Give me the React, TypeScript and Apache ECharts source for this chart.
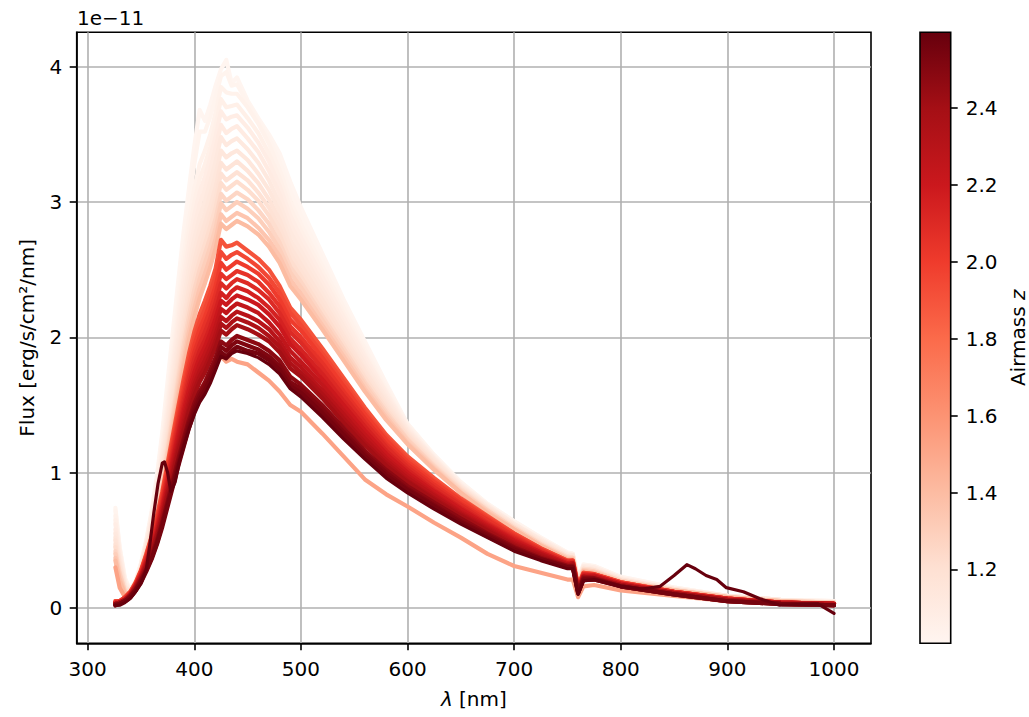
import React, { useEffect, useRef } from "react";
import * as echarts from "echarts";

// Shared wavelength grid (nm)
const WAVELENGTHS = [326, 330, 335, 340, 345, 350, 355, 360, 365, 370, 375, 380, 385, 390, 395, 400, 405, 410, 415, 420, 425, 430, 435, 440, 450, 460, 470, 480, 490, 500, 520, 540, 560, 580, 600, 625, 650, 675, 700, 725, 750, 755, 760, 765, 775, 800, 850, 900, 950, 1000];

// Flux in units of 1e-11 erg/s/cm2/nm, one array per spectrum (name = airmass)
const FLUX_Z1008 = [0.74, 0.45, 0.22, 0.13, 0.20, 0.33, 0.50, 0.72, 0.98, 1.30, 1.68, 2.05, 2.42, 2.78, 3.10, 3.41, 3.68, 3.60, 3.72, 3.86, 3.98, 4.05, 3.88, 3.92, 3.75, 3.62, 3.50, 3.36, 3.15, 2.96, 2.62, 2.28, 1.97, 1.66, 1.36, 1.13, 0.93, 0.77, 0.64, 0.52, 0.41, 0.40, 0.22, 0.32, 0.31, 0.23, 0.15, 0.09, 0.06, 0.05];
const FLUX_Z102 = [0.72, 0.44, 0.21, 0.13, 0.20, 0.33, 0.50, 0.70, 0.96, 1.27, 1.62, 1.99, 2.35, 2.70, 3.00, 3.28, 3.52, 3.52, 3.63, 3.78, 3.93, 3.96, 3.86, 3.87, 3.73, 3.60, 3.47, 3.30, 3.08, 2.90, 2.58, 2.25, 1.94, 1.64, 1.36, 1.13, 0.93, 0.77, 0.64, 0.52, 0.41, 0.40, 0.22, 0.32, 0.31, 0.23, 0.15, 0.09, 0.06, 0.05];
const FLUX_Z104 = [0.68, 0.43, 0.20, 0.13, 0.20, 0.32, 0.49, 0.69, 0.93, 1.22, 1.56, 1.92, 2.27, 2.60, 2.87, 3.10, 3.28, 3.38, 3.50, 3.66, 3.85, 3.81, 3.80, 3.80, 3.70, 3.58, 3.43, 3.24, 3.01, 2.84, 2.53, 2.22, 1.91, 1.62, 1.35, 1.12, 0.92, 0.76, 0.63, 0.51, 0.40, 0.40, 0.21, 0.31, 0.30, 0.22, 0.15, 0.09, 0.06, 0.05];
const FLUX_Z106 = [0.65, 0.41, 0.19, 0.13, 0.19, 0.31, 0.48, 0.67, 0.90, 1.18, 1.51, 1.85, 2.19, 2.51, 2.78, 3.00, 3.17, 3.28, 3.41, 3.57, 3.76, 3.70, 3.71, 3.72, 3.62, 3.51, 3.36, 3.18, 2.96, 2.79, 2.49, 2.18, 1.88, 1.60, 1.34, 1.11, 0.91, 0.76, 0.62, 0.51, 0.40, 0.39, 0.21, 0.31, 0.30, 0.22, 0.14, 0.09, 0.06, 0.04];
const FLUX_Z108 = [0.62, 0.40, 0.18, 0.13, 0.19, 0.31, 0.47, 0.66, 0.88, 1.15, 1.46, 1.79, 2.12, 2.43, 2.69, 2.91, 3.07, 3.19, 3.33, 3.49, 3.67, 3.61, 3.63, 3.64, 3.55, 3.44, 3.30, 3.12, 2.90, 2.74, 2.45, 2.15, 1.86, 1.59, 1.33, 1.11, 0.91, 0.76, 0.62, 0.51, 0.40, 0.39, 0.21, 0.31, 0.30, 0.22, 0.14, 0.09, 0.06, 0.04];
const FLUX_Z110 = [0.58, 0.37, 0.17, 0.12, 0.19, 0.30, 0.46, 0.64, 0.85, 1.11, 1.41, 1.73, 2.05, 2.35, 2.60, 2.82, 2.98, 3.10, 3.24, 3.40, 3.57, 3.51, 3.54, 3.56, 3.47, 3.37, 3.23, 3.06, 2.84, 2.69, 2.40, 2.11, 1.83, 1.57, 1.32, 1.10, 0.90, 0.75, 0.62, 0.50, 0.39, 0.39, 0.20, 0.30, 0.29, 0.21, 0.14, 0.09, 0.06, 0.04];
const FLUX_Z112 = [0.55, 0.35, 0.16, 0.12, 0.19, 0.30, 0.45, 0.62, 0.83, 1.08, 1.37, 1.67, 1.98, 2.27, 2.52, 2.73, 2.89, 3.01, 3.15, 3.30, 3.48, 3.42, 3.45, 3.47, 3.39, 3.29, 3.16, 2.99, 2.78, 2.64, 2.36, 2.08, 1.80, 1.55, 1.31, 1.10, 0.90, 0.75, 0.62, 0.50, 0.39, 0.39, 0.20, 0.30, 0.29, 0.21, 0.14, 0.09, 0.06, 0.04];
const FLUX_Z114 = [0.52, 0.33, 0.15, 0.12, 0.18, 0.29, 0.44, 0.60, 0.80, 1.04, 1.32, 1.61, 1.91, 2.19, 2.44, 2.64, 2.80, 2.92, 3.06, 3.20, 3.38, 3.33, 3.36, 3.38, 3.31, 3.21, 3.09, 2.93, 2.72, 2.59, 2.32, 2.04, 1.77, 1.53, 1.30, 1.09, 0.89, 0.74, 0.61, 0.49, 0.38, 0.38, 0.19, 0.29, 0.28, 0.21, 0.14, 0.08, 0.05, 0.04];
const FLUX_Z117 = [0.50, 0.32, 0.15, 0.12, 0.18, 0.29, 0.43, 0.59, 0.78, 1.01, 1.28, 1.56, 1.85, 2.12, 2.36, 2.56, 2.72, 2.84, 2.97, 3.11, 3.29, 3.24, 3.27, 3.30, 3.23, 3.14, 3.02, 2.87, 2.67, 2.54, 2.28, 2.01, 1.75, 1.51, 1.29, 1.08, 0.89, 0.74, 0.61, 0.49, 0.38, 0.38, 0.19, 0.29, 0.28, 0.21, 0.14, 0.08, 0.05, 0.04];
const FLUX_Z119 = [0.47, 0.30, 0.14, 0.12, 0.18, 0.28, 0.42, 0.57, 0.76, 0.98, 1.24, 1.51, 1.79, 2.06, 2.29, 2.49, 2.64, 2.76, 2.89, 3.03, 3.21, 3.16, 3.19, 3.22, 3.16, 3.07, 2.96, 2.81, 2.62, 2.49, 2.24, 1.98, 1.72, 1.49, 1.28, 1.07, 0.88, 0.73, 0.60, 0.48, 0.38, 0.37, 0.19, 0.29, 0.28, 0.20, 0.13, 0.08, 0.05, 0.04];
const FLUX_Z122 = [0.45, 0.28, 0.13, 0.12, 0.18, 0.28, 0.41, 0.56, 0.74, 0.96, 1.21, 1.47, 1.74, 2.00, 2.23, 2.42, 2.57, 2.69, 2.82, 2.96, 3.14, 3.09, 3.12, 3.15, 3.09, 3.01, 2.90, 2.76, 2.57, 2.45, 2.20, 1.95, 1.70, 1.47, 1.27, 1.06, 0.88, 0.73, 0.60, 0.48, 0.38, 0.37, 0.19, 0.29, 0.28, 0.20, 0.13, 0.08, 0.05, 0.04];
const FLUX_Z126 = [0.42, 0.26, 0.12, 0.11, 0.17, 0.27, 0.40, 0.54, 0.72, 0.93, 1.17, 1.43, 1.69, 1.94, 2.16, 2.35, 2.50, 2.62, 2.74, 2.88, 3.06, 3.01, 3.04, 3.07, 3.02, 2.94, 2.84, 2.70, 2.52, 2.41, 2.16, 1.92, 1.67, 1.45, 1.25, 1.05, 0.87, 0.72, 0.59, 0.47, 0.37, 0.37, 0.18, 0.28, 0.27, 0.20, 0.13, 0.08, 0.05, 0.04];
const FLUX_Z130 = [0.40, 0.25, 0.12, 0.11, 0.17, 0.27, 0.39, 0.53, 0.70, 0.90, 1.14, 1.39, 1.64, 1.88, 2.10, 2.28, 2.43, 2.55, 2.67, 2.81, 2.99, 2.94, 2.97, 3.00, 2.95, 2.88, 2.78, 2.65, 2.48, 2.37, 2.13, 1.89, 1.65, 1.43, 1.24, 1.04, 0.86, 0.72, 0.59, 0.47, 0.37, 0.37, 0.18, 0.28, 0.27, 0.20, 0.13, 0.08, 0.05, 0.04];
const FLUX_Z135 = [0.37, 0.22, 0.11, 0.11, 0.17, 0.26, 0.38, 0.51, 0.68, 0.87, 1.10, 1.34, 1.59, 1.82, 2.04, 2.21, 2.36, 2.47, 2.59, 2.73, 2.91, 2.86, 2.89, 2.92, 2.88, 2.81, 2.72, 2.60, 2.43, 2.32, 2.09, 1.86, 1.62, 1.41, 1.22, 1.03, 0.85, 0.71, 0.58, 0.46, 0.36, 0.36, 0.17, 0.27, 0.26, 0.19, 0.13, 0.08, 0.05, 0.03];
const FLUX_Z140 = [0.35, 0.20, 0.10, 0.11, 0.17, 0.26, 0.37, 0.50, 0.66, 0.85, 1.07, 1.30, 1.54, 1.77, 1.98, 2.15, 2.29, 2.40, 2.52, 2.66, 2.84, 2.80, 2.83, 2.86, 2.82, 2.76, 2.67, 2.55, 2.38, 2.28, 2.06, 1.83, 1.60, 1.39, 1.21, 1.02, 0.85, 0.70, 0.58, 0.46, 0.36, 0.36, 0.17, 0.27, 0.26, 0.19, 0.13, 0.08, 0.05, 0.03];
const FLUX_Z152 = [0.30, 0.15, 0.08, 0.10, 0.15, 0.22, 0.30, 0.40, 0.52, 0.66, 0.82, 0.98, 1.13, 1.27, 1.40, 1.50, 1.58, 1.65, 1.72, 1.80, 1.86, 1.82, 1.84, 1.82, 1.80, 1.74, 1.68, 1.60, 1.50, 1.45, 1.29, 1.12, 0.95, 0.84, 0.75, 0.63, 0.52, 0.40, 0.31, 0.26, 0.21, 0.21, 0.08, 0.16, 0.17, 0.13, 0.09, 0.05, 0.03, 0.02];
const FLUX_Z190 = [0.05, 0.05, 0.08, 0.12, 0.19, 0.28, 0.40, 0.53, 0.68, 0.86, 1.07, 1.28, 1.49, 1.69, 1.88, 2.04, 2.17, 2.27, 2.38, 2.51, 2.72, 2.67, 2.68, 2.70, 2.64, 2.58, 2.50, 2.38, 2.22, 2.13, 1.92, 1.70, 1.48, 1.28, 1.12, 0.96, 0.81, 0.68, 0.55, 0.44, 0.35, 0.35, 0.16, 0.26, 0.25, 0.19, 0.12, 0.07, 0.04, 0.03];
const FLUX_Z195 = [0.05, 0.05, 0.08, 0.12, 0.18, 0.27, 0.39, 0.52, 0.66, 0.84, 1.04, 1.25, 1.45, 1.65, 1.83, 1.99, 2.11, 2.21, 2.32, 2.45, 2.63, 2.58, 2.61, 2.63, 2.58, 2.52, 2.44, 2.33, 2.18, 2.09, 1.88, 1.67, 1.45, 1.26, 1.10, 0.94, 0.80, 0.67, 0.55, 0.44, 0.35, 0.35, 0.16, 0.26, 0.25, 0.19, 0.12, 0.07, 0.04, 0.03];
const FLUX_Z200 = [0.04, 0.05, 0.07, 0.11, 0.18, 0.27, 0.38, 0.50, 0.65, 0.82, 1.02, 1.22, 1.42, 1.61, 1.79, 1.94, 2.06, 2.15, 2.26, 2.38, 2.55, 2.50, 2.53, 2.56, 2.52, 2.47, 2.39, 2.28, 2.13, 2.05, 1.85, 1.64, 1.43, 1.24, 1.08, 0.93, 0.79, 0.66, 0.54, 0.43, 0.34, 0.35, 0.15, 0.25, 0.25, 0.19, 0.12, 0.07, 0.04, 0.03];
const FLUX_Z205 = [0.04, 0.05, 0.07, 0.11, 0.17, 0.26, 0.37, 0.49, 0.63, 0.80, 0.99, 1.19, 1.38, 1.57, 1.74, 1.89, 2.00, 2.10, 2.20, 2.32, 2.47, 2.43, 2.46, 2.49, 2.46, 2.41, 2.33, 2.23, 2.08, 2.00, 1.81, 1.60, 1.40, 1.21, 1.06, 0.91, 0.77, 0.65, 0.53, 0.43, 0.34, 0.34, 0.15, 0.25, 0.24, 0.18, 0.12, 0.07, 0.04, 0.03];
const FLUX_Z210 = [0.04, 0.04, 0.07, 0.11, 0.17, 0.25, 0.36, 0.48, 0.61, 0.78, 0.97, 1.16, 1.35, 1.53, 1.70, 1.84, 1.95, 2.04, 2.14, 2.26, 2.40, 2.36, 2.40, 2.43, 2.40, 2.35, 2.28, 2.18, 2.04, 1.96, 1.77, 1.57, 1.37, 1.19, 1.04, 0.89, 0.76, 0.63, 0.52, 0.42, 0.34, 0.34, 0.15, 0.25, 0.24, 0.18, 0.12, 0.07, 0.04, 0.03];
const FLUX_Z215 = [0.04, 0.04, 0.06, 0.10, 0.17, 0.25, 0.35, 0.46, 0.60, 0.76, 0.94, 1.13, 1.31, 1.49, 1.65, 1.79, 1.90, 1.98, 2.08, 2.20, 2.33, 2.29, 2.34, 2.37, 2.34, 2.29, 2.22, 2.13, 1.99, 1.91, 1.73, 1.53, 1.34, 1.16, 1.02, 0.87, 0.74, 0.62, 0.51, 0.41, 0.33, 0.33, 0.14, 0.24, 0.24, 0.18, 0.11, 0.07, 0.04, 0.03];
const FLUX_Z220 = [0.03, 0.04, 0.06, 0.10, 0.16, 0.24, 0.34, 0.45, 0.58, 0.74, 0.92, 1.10, 1.28, 1.45, 1.61, 1.74, 1.85, 1.93, 2.03, 2.14, 2.27, 2.24, 2.28, 2.31, 2.28, 2.24, 2.17, 2.08, 1.95, 1.87, 1.69, 1.50, 1.31, 1.14, 1.00, 0.86, 0.73, 0.61, 0.50, 0.41, 0.33, 0.33, 0.14, 0.24, 0.24, 0.18, 0.11, 0.06, 0.04, 0.03];
const FLUX_Z225 = [0.03, 0.04, 0.06, 0.10, 0.16, 0.23, 0.33, 0.44, 0.56, 0.72, 0.89, 1.07, 1.24, 1.41, 1.56, 1.69, 1.80, 1.88, 1.97, 2.08, 2.21, 2.18, 2.22, 2.25, 2.22, 2.18, 2.11, 2.02, 1.90, 1.82, 1.65, 1.46, 1.28, 1.11, 0.98, 0.84, 0.71, 0.60, 0.49, 0.40, 0.32, 0.33, 0.13, 0.23, 0.23, 0.17, 0.11, 0.06, 0.04, 0.03];
const FLUX_Z230 = [0.03, 0.04, 0.06, 0.10, 0.16, 0.23, 0.32, 0.43, 0.55, 0.70, 0.87, 1.04, 1.21, 1.37, 1.52, 1.65, 1.75, 1.83, 1.92, 2.02, 2.15, 2.12, 2.16, 2.19, 2.16, 2.12, 2.06, 1.97, 1.85, 1.78, 1.61, 1.43, 1.25, 1.09, 0.96, 0.83, 0.70, 0.59, 0.48, 0.40, 0.32, 0.33, 0.13, 0.23, 0.23, 0.17, 0.11, 0.06, 0.04, 0.03];
const FLUX_Z235 = [0.03, 0.04, 0.06, 0.09, 0.15, 0.22, 0.31, 0.42, 0.54, 0.68, 0.85, 1.01, 1.18, 1.33, 1.48, 1.61, 1.71, 1.78, 1.87, 1.97, 2.10, 2.07, 2.11, 2.14, 2.11, 2.07, 2.01, 1.93, 1.81, 1.74, 1.58, 1.40, 1.22, 1.07, 0.94, 0.81, 0.69, 0.58, 0.47, 0.39, 0.31, 0.32, 0.13, 0.23, 0.22, 0.17, 0.11, 0.06, 0.03, 0.02];
const FLUX_Z240 = [0.03, 0.04, 0.06, 0.09, 0.15, 0.22, 0.31, 0.41, 0.53, 0.67, 0.83, 0.99, 1.15, 1.30, 1.45, 1.57, 1.67, 1.74, 1.83, 1.93, 2.05, 2.02, 2.06, 2.09, 2.06, 2.02, 1.97, 1.89, 1.77, 1.71, 1.55, 1.37, 1.20, 1.05, 0.93, 0.80, 0.68, 0.57, 0.46, 0.38, 0.31, 0.32, 0.13, 0.23, 0.22, 0.17, 0.11, 0.06, 0.03, 0.02];
const FLUX_Z248 = [0.03, 0.03, 0.05, 0.09, 0.14, 0.21, 0.29, 0.39, 0.50, 0.64, 0.79, 0.95, 1.10, 1.25, 1.39, 1.51, 1.60, 1.67, 1.76, 1.85, 1.97, 1.94, 1.98, 2.01, 1.98, 1.95, 1.90, 1.83, 1.71, 1.65, 1.50, 1.33, 1.16, 1.02, 0.90, 0.78, 0.66, 0.55, 0.45, 0.37, 0.31, 0.31, 0.12, 0.22, 0.22, 0.16, 0.10, 0.05, 0.03, 0.02];
const FLUX_Z252 = [0.02, 0.03, 0.05, 0.08, 0.13, 0.20, 0.28, 0.37, 0.48, 0.62, 0.77, 0.92, 1.07, 1.22, 1.36, 1.48, 1.57, 1.64, 1.72, 1.81, 1.93, 1.90, 1.94, 1.97, 1.94, 1.91, 1.86, 1.79, 1.67, 1.62, 1.47, 1.30, 1.14, 1.00, 0.88, 0.76, 0.64, 0.54, 0.44, 0.36, 0.30, 0.30, 0.11, 0.21, 0.21, 0.16, 0.10, 0.05, 0.03, 0.02];
const FLUX_Z255 = [0.02, 0.03, 0.05, 0.08, 0.13, 0.19, 0.27, 0.36, 0.47, 0.60, 0.75, 0.90, 1.05, 1.19, 1.33, 1.45, 1.54, 1.61, 1.69, 1.78, 1.89, 1.86, 1.90, 1.93, 1.90, 1.88, 1.83, 1.76, 1.64, 1.59, 1.44, 1.28, 1.12, 0.98, 0.87, 0.75, 0.63, 0.53, 0.43, 0.36, 0.30, 0.30, 0.11, 0.21, 0.21, 0.16, 0.10, 0.05, 0.03, 0.02];

// Airmass of each spectrum above, same order as SPECTRA
const AIRMASS = [1.008, 1.02, 1.04, 1.06, 1.08, 1.10, 1.12, 1.14, 1.17, 1.19, 1.22, 1.26, 1.30, 1.35, 1.40, 1.52, 1.90, 1.95, 2.00, 2.05, 2.10, 2.15, 2.20, 2.25, 2.30, 2.35, 2.40, 2.48, 2.52, 2.55];
const SPECTRA = [FLUX_Z1008, FLUX_Z102, FLUX_Z104, FLUX_Z106, FLUX_Z108, FLUX_Z110, FLUX_Z112, FLUX_Z114, FLUX_Z117, FLUX_Z119, FLUX_Z122, FLUX_Z126, FLUX_Z130, FLUX_Z135, FLUX_Z140, FLUX_Z152, FLUX_Z190, FLUX_Z195, FLUX_Z200, FLUX_Z205, FLUX_Z210, FLUX_Z215, FLUX_Z220, FLUX_Z225, FLUX_Z230, FLUX_Z235, FLUX_Z240, FLUX_Z248, FLUX_Z252, FLUX_Z255];

// Highest-airmass spectrum, with its own sampling (bumps near 370 and 862 nm)
const BUMP_AIRMASS = 2.597;
const BUMP_WAVELENGTHS = [326, 330, 335, 340, 345, 350, 355, 358, 362, 366, 370, 372, 375, 378, 382, 386, 390, 395, 400, 405, 410, 415, 420, 425, 430, 435, 440, 450, 460, 470, 480, 490, 500, 520, 540, 560, 580, 600, 625, 650, 675, 700, 725, 750, 755, 760, 765, 775, 800, 820, 837, 850, 862, 870, 880, 890, 899, 915, 930, 949, 985, 1000];
const BUMP_FLUX = [0.02, 0.02, 0.04, 0.07, 0.12, 0.18, 0.28, 0.45, 0.70, 0.92, 1.07, 1.08, 1.00, 0.86, 0.93, 1.08, 1.19, 1.32, 1.43, 1.52, 1.58, 1.66, 1.76, 1.86, 1.84, 1.88, 1.90, 1.88, 1.85, 1.80, 1.73, 1.62, 1.56, 1.41, 1.25, 1.10, 0.96, 0.85, 0.73, 0.62, 0.52, 0.42, 0.35, 0.29, 0.29, 0.10, 0.20, 0.21, 0.16, 0.14, 0.16, 0.24, 0.32, 0.29, 0.24, 0.21, 0.15, 0.12, 0.07, 0.02, 0.03, -0.04];

// Axis ticks
const X_TICKS = [300, 400, 500, 600, 700, 800, 900, 1000];
const Y_TICKS = [0, 1, 2, 3, 4];
const Z_TICKS = [1.2, 1.4, 1.6, 1.8, 2.0, 2.2, 2.4];
const Z_MIN = 1.008;
const Z_MAX = 2.597;

// matplotlib "Reds" colormap
const REDS = ["#fff5f0", "#fee0d2", "#fcbba1", "#fc9272", "#fb6a4a", "#ef3b2c", "#cb181d", "#a50f15", "#67000d"];

function hexToRgb(h: string) {
  return [parseInt(h.slice(1, 3), 16), parseInt(h.slice(3, 5), 16), parseInt(h.slice(5, 7), 16)];
}
function redsColor(z: number) {
  let t = (z - Z_MIN) / (Z_MAX - Z_MIN);
  t = Math.max(0, Math.min(1, t));
  const pos = t * (REDS.length - 1);
  const i = Math.min(REDS.length - 2, Math.floor(pos));
  const f = pos - i;
  const a = hexToRgb(REDS[i]);
  const b = hexToRgb(REDS[i + 1]);
  const c = a.map((v, k) => Math.round(v + (b[k] - v) * f));
  return `rgb(${c[0]},${c[1]},${c[2]})`;
}

const FONT = "DejaVu Sans";
const LW = 4.2;

export default function App() {
  const ref = useRef<HTMLDivElement>(null);
  useEffect(() => {
    const chart = echarts.init(ref.current!, null, { renderer: "svg" });

    const lineSeries: any[] = SPECTRA.map((flux, k) => ({
      type: "line",
      xAxisIndex: 0,
      yAxisIndex: 0,
      data: WAVELENGTHS.map((w, i) => [w, flux[i]]),
      showSymbol: false,
      symbol: "none",
      silent: true,
      lineStyle: { width: LW, color: redsColor(AIRMASS[k]), join: "round", cap: "round" },
      z: 2,
    }));
    lineSeries.push({
      type: "line",
      xAxisIndex: 0,
      yAxisIndex: 0,
      data: BUMP_WAVELENGTHS.map((w, i) => [w, BUMP_FLUX[i]]),
      showSymbol: false,
      symbol: "none",
      silent: true,
      lineStyle: { width: 3.2, color: redsColor(BUMP_AIRMASS), join: "round", cap: "round" },
      z: 2,
    });

    const gradStops = REDS.map((c, i) => ({ offset: 1 - i / (REDS.length - 1), color: c })).reverse();

    const colorbarSeries = {
      type: "custom",
      xAxisIndex: 1,
      yAxisIndex: 1,
      silent: true,
      data: [[0, Z_MIN]],
      renderItem: (params: any, api: any) => {
        const p0 = api.coord([0, Z_MAX]);
        const p1 = api.coord([1, Z_MIN]);
        return {
          type: "rect",
          shape: { x: p0[0], y: p0[1], width: p1[0] - p0[0], height: p1[1] - p0[1] },
          style: {
            fill: new echarts.graphic.LinearGradient(0, 0, 0, 1, gradStops),
            stroke: "#000",
            lineWidth: 1.6,
          },
        };
      },
    };

    const tickStyle = { show: true, inside: false, length: 7, lineStyle: { color: "#000", width: 1.6 } };
    const axisLineStyle = { show: true, onZero: false, lineStyle: { color: "#000", width: 1.6 } };
    const labelStyle = { color: "#000", fontSize: 20, fontFamily: FONT };
    const italicRich = { i: { fontStyle: "italic", fontSize: 20, fontFamily: FONT, color: "#000" } };

    const option: any = {
      animation: false,
      backgroundColor: "#fff",
      textStyle: { fontFamily: FONT },
      grid: [
        { left: 76.7, top: 32.3, width: 794.3, height: 611, show: true, borderColor: "#000", borderWidth: 1.6, backgroundColor: "transparent" },
        { left: 920, top: 32.3, width: 30.7, height: 611, show: false },
      ],
      xAxis: [
        {
          type: "value",
          gridIndex: 0,
          min: 289.7,
          max: 1034.7,
          axisLine: axisLineStyle,
          axisTick: { ...tickStyle, customValues: X_TICKS },
          axisLabel: { ...labelStyle, margin: 16, customValues: X_TICKS, formatter: (v: number) => String(v) },
          splitLine: { show: true, lineStyle: { color: "#b0b0b0", width: 1.6 } },
          name: "{i|λ} [nm]",
          nameLocation: "middle",
          nameGap: 46,
          nameTextStyle: { ...labelStyle, rich: italicRich },
        },
        { type: "value", gridIndex: 1, min: 0, max: 1, show: false },
      ],
      yAxis: [
        {
          type: "value",
          gridIndex: 0,
          min: -0.261,
          max: 4.254,
          axisLine: axisLineStyle,
          axisTick: { ...tickStyle, customValues: Y_TICKS },
          axisLabel: { ...labelStyle, margin: 14.5, customValues: Y_TICKS, formatter: (v: number) => String(v) },
          splitLine: { show: true, lineStyle: { color: "#b0b0b0", width: 1.6 } },
          name: "Flux [erg/s/cm²/nm]",
          nameLocation: "middle",
          nameGap: 40,
          nameRotate: 90,
          nameTextStyle: { ...labelStyle },
        },
        {
          type: "value",
          gridIndex: 1,
          position: "right",
          min: Z_MIN,
          max: Z_MAX,
          axisLine: { show: false, onZero: false },
          axisTick: { ...tickStyle, customValues: Z_TICKS },
          axisLabel: { ...labelStyle, margin: 15, customValues: Z_TICKS, formatter: (v: number) => v.toFixed(1) },
          splitLine: { show: false },
          name: "Airmass {i|z}",
          nameLocation: "middle",
          nameGap: 57,
          nameRotate: 90,
          nameTextStyle: { ...labelStyle, rich: italicRich },
        },
      ],
      graphic: [
        {
          type: "text",
          x: 77,
          y: 18,
          style: { text: "1e−11", font: `20px "${FONT}"`, fill: "#000", verticalAlign: "middle", align: "left" },
        },
      ],
      series: [...lineSeries, colorbarSeries],
    };

    chart.setOption(option);
    return () => chart.dispose();
  }, []);

  return <div ref={ref} style={{ position: "fixed", left: 0, top: 0, width: 1029, height: 717, background: "#fff" }} />;
}
